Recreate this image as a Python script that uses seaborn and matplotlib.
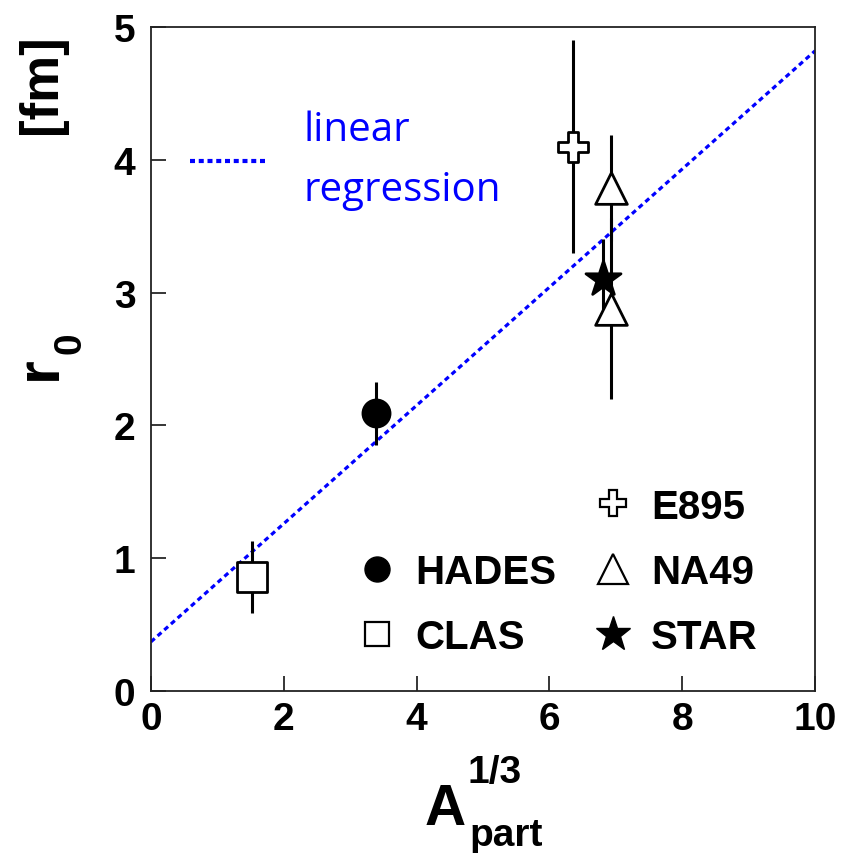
import matplotlib
matplotlib.use("Agg")
import matplotlib.pyplot as plt
from matplotlib.lines import Line2D
import numpy as np
import pandas as pd
import seaborn as sns

# Source radius r0 versus A_part^(1/3) for several experiments
experiments = ["CLAS", "HADES", "E895", "NA49", "NA49", "STAR"]
a_part_third = [1.52, 3.39, 6.36, 6.93, 6.93, 6.81]
r0_fm = [0.86, 2.09, 4.10, 3.79, 2.88, 3.10]
r0_err = [0.27, 0.24, 0.80, 0.40, 0.68, 0.30]

# Linear regression end points
reg_x = [0.0, 10.0]
reg_y = [0.37, 4.82]

x_ticks = [0, 2, 4, 6, 8, 10]
y_ticks = [0, 1, 2, 3, 4, 5]

df = pd.DataFrame({"exp": experiments, "x": a_part_third,
                   "y": r0_fm, "err": r0_err})

sns.set_theme(style="ticks")
plt.rcParams["font.family"] = ["Liberation Sans", "DejaVu Sans"]
plt.rcParams["text.color"] = "black"
plt.rcParams["xtick.color"] = "black"
plt.rcParams["ytick.color"] = "black"
plt.rcParams["axes.edgecolor"] = "black"

fig = plt.figure(figsize=(8.43, 8.54), dpi=100)
ax = fig.add_axes([0.179, 0.1897, 0.9668 - 0.179, 0.9672 - 0.1897])

# marker styles: (marker, size s, face, edge)
styles = {
    "CLAS": ("s", 470, "white", "black"),
    "HADES": ("o", 380, "black", "black"),
    "E895": ("P", 480, "white", "black"),
    "NA49": ("^", 520, "white", "black"),
    "STAR": ("*", 700, "black", "black"),
}

# regression line
sns.lineplot(x=reg_x, y=reg_y, ax=ax, color="#0000ff", lw=2.3,
             linestyle=(0, (1.6, 1.2)), zorder=1)

# error bars
ax.errorbar(df["x"], df["y"], yerr=df["err"], fmt="none", ecolor="black",
            elinewidth=2.2, capsize=0, zorder=2)

for name, (mk, s, fc, ec) in styles.items():
    sub = df[df["exp"] == name]
    sns.scatterplot(data=sub, x="x", y="y", ax=ax, marker=mk, s=s,
                    color=fc, edgecolor=ec, linewidth=2.0, zorder=3,
                    legend=False)

ax.set_xlim(0, 10)
ax.set_ylim(0, 5)
ax.set_xticks(x_ticks)
ax.set_yticks(y_ticks)
ax.set_xticklabels([str(t) for t in x_ticks], fontsize=28, fontweight="bold")
ax.set_yticklabels([str(t) for t in y_ticks], fontsize=28, fontweight="bold")
ax.tick_params(axis="both", direction="in", length=11, width=1.1)
ax.tick_params(axis="x", pad=7)
ax.tick_params(axis="y", pad=11)
for sp in ax.spines.values():
    sp.set_linewidth(1.3)
    sp.set_color("#222222")
ax.set_xlabel("")
ax.set_ylabel("")

W, H = 843.0, 854.0
# x axis title: A with stacked sub/superscript
fig.text(425 / W, 1 - 825 / H, "A", fontsize=41, fontweight="bold",
         ha="left", va="baseline")
fig.text(467 / W, 1 - 783 / H, "1/3", fontsize=28, fontweight="bold",
         ha="left", va="baseline")
fig.text(469 / W, 1 - 846 / H, "part", fontsize=28, fontweight="bold",
         ha="left", va="baseline")

# y axis title: r with subscript 0, and the unit
fig.text(40 / W, 1 - 380 / H, "r", fontsize=44, fontweight="bold",
         rotation=90, ha="center", va="bottom")
fig.text(70 / W, 1 - 354 / H, "0", fontsize=28, fontweight="bold",
         rotation=90, ha="center", va="bottom")
fig.text(42 / W, 1 - 84 / H, "[fm]", fontsize=38, fontweight="bold",
         rotation=90, ha="center", va="center")

# experiment legend
blank = Line2D([], [], linestyle="none", marker=None)
h_hades = Line2D([], [], linestyle="none", marker="o", markersize=18,
                 markerfacecolor="black", markeredgecolor="black")
h_clas = Line2D([], [], linestyle="none", marker="s", markersize=17,
                markerfacecolor="white", markeredgecolor="black",
                markeredgewidth=1.6)
h_e895 = Line2D([], [], linestyle="none", marker="P", markersize=19,
                markerfacecolor="white", markeredgecolor="black",
                markeredgewidth=1.6)
h_na49 = Line2D([], [], linestyle="none", marker="^", markersize=21,
                markerfacecolor="white", markeredgecolor="black",
                markeredgewidth=1.6)
h_star = Line2D([], [], linestyle="none", marker="*", markersize=26,
                markerfacecolor="black", markeredgecolor="black")
leg = ax.legend([blank, h_hades, h_clas, h_e895, h_na49, h_star],
                ["", "HADES", "CLAS", "E895", "NA49", "STAR"],
                ncol=2, loc="lower right", bbox_to_anchor=(0.938, 0.028),
                frameon=False, prop={"family": "Liberation Sans",
                                     "weight": "bold", "size": 29},
                handlelength=1.0, handletextpad=0.45, columnspacing=0.9,
                labelspacing=0.68, borderaxespad=0)
ax.add_artist(leg)

# regression key
h_reg = Line2D([], [], color="#0000ff", lw=3.0, linestyle=(0, (1.2, 0.9)))
leg2 = ax.legend([h_reg], ["linear\nregression"], loc="center left",
                 bbox_to_anchor=(0.035, 0.8), frameon=False,
                 prop={"family": "Open Sans", "size": 29},
                 handlelength=1.9, handletextpad=0.9, borderaxespad=0,
                 labelcolor="#0000ff")
for t in leg2.get_texts():
    t.set_linespacing(1.65)

fig.savefig("out.png", dpi=100)
